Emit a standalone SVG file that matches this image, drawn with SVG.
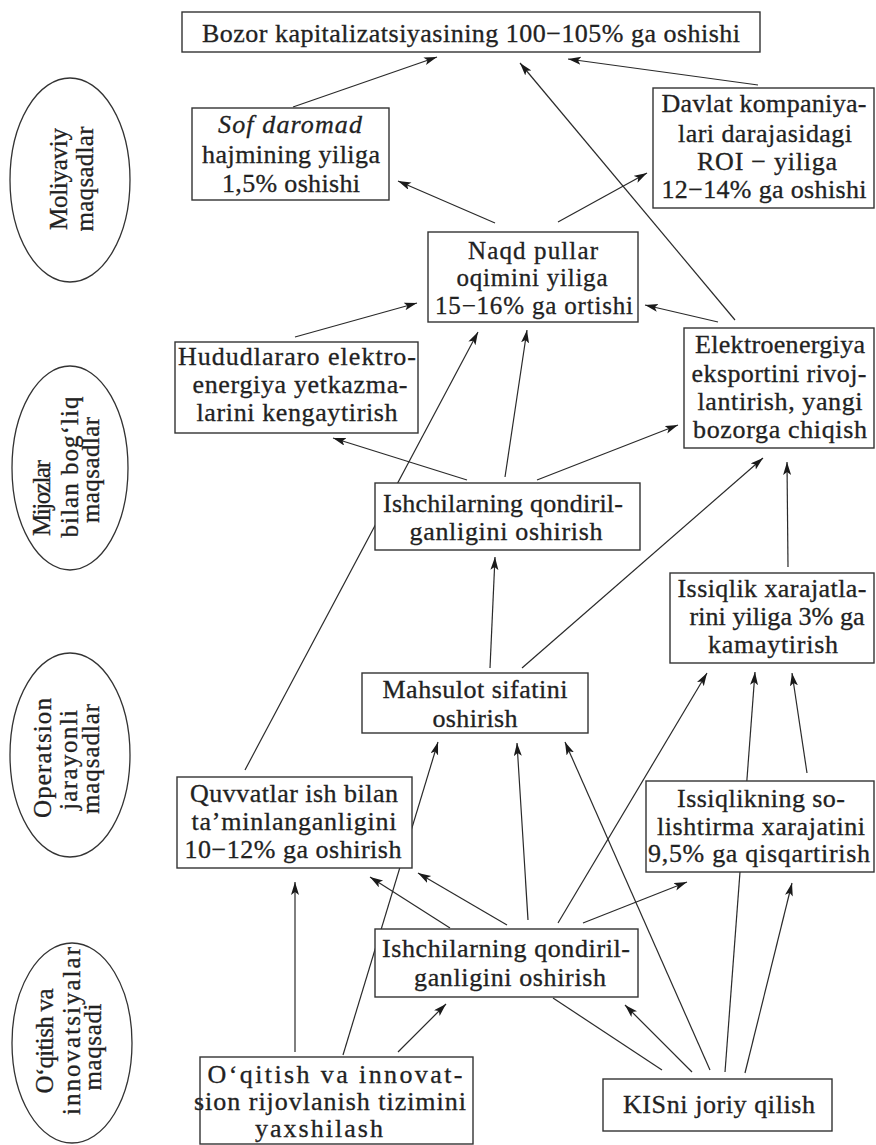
<svg xmlns="http://www.w3.org/2000/svg" width="876" height="1145" viewBox="0 0 876 1145">
<defs>
<marker id="ah" markerUnits="userSpaceOnUse" markerWidth="14" markerHeight="10" refX="13" refY="4" orient="auto">
<path d="M0,0 L13,4 L0,8 L3,4 z" fill="#1a1a1a"/>
</marker>
<style>
.box{fill:#fff;stroke:#333;stroke-width:1.4}
.ell{fill:#fff;stroke:#333;stroke-width:1.3}
.t{font-family:"Liberation Serif","Times New Roman",serif;font-size:26px;fill:#222;text-anchor:middle;stroke:#222;stroke-width:0.3}
.e{font-family:"Liberation Serif","Times New Roman",serif;font-size:25px;fill:#222;text-anchor:middle;stroke:#222;stroke-width:0.3}
.c line{stroke:#2a2a2a;stroke-width:1.2;fill:none}
.c .a{marker-end:url(#ah)}
</style>
</defs>
<rect width="876" height="1145" fill="#fff"/>

<g id="connectors" class="c">
<line class="a" x1="293" y1="107" x2="437" y2="57"/>
<line class="a" x1="758" y1="85" x2="568" y2="59"/>
<line class="a" x1="735" y1="320" x2="520" y2="63"/>
<line class="a" x1="495" y1="223" x2="398" y2="181"/>
<line class="a" x1="558" y1="222" x2="647" y2="173"/>
<line class="a" x1="718" y1="322" x2="645" y2="305"/>
<line class="a" x1="295" y1="337" x2="417" y2="303"/>
<line class="a" x1="467" y1="480" x2="333" y2="438"/>
<line class="a" x1="505" y1="477" x2="527" y2="330"/>
<line class="a" x1="537" y1="480" x2="678" y2="425"/>
<line class="a" x1="245" y1="770" x2="478" y2="332"/>
<line class="a" x1="788" y1="567" x2="787" y2="462"/>
<line class="a" x1="490" y1="668" x2="495" y2="557"/>
<line class="a" x1="522" y1="668" x2="763" y2="458"/>
<line class="a" x1="343" y1="1055" x2="438" y2="742"/>
<line class="a" x1="450" y1="928" x2="370" y2="877"/>
<line class="a" x1="507" y1="925" x2="418" y2="873"/>
<line class="a" x1="528" y1="920" x2="517" y2="743"/>
<line class="a" x1="558" y1="923" x2="707" y2="673"/>
<line class="a" x1="583" y1="923" x2="687" y2="882"/>
<line class="a" x1="710" y1="1070" x2="565" y2="742"/>
<line class="a" x1="725" y1="1072" x2="755" y2="672"/>
<line class="a" x1="807" y1="773" x2="792" y2="673"/>
<line class="a" x1="745" y1="1073" x2="792" y2="883"/>
<line class="a" x1="692" y1="1072" x2="625" y2="1005"/>
<line x1="553" y1="998" x2="662" y2="1070"/>
<line class="a" x1="295" y1="1052" x2="295" y2="882"/>
<line class="a" x1="398" y1="1052" x2="446" y2="1004"/>
</g>

<g id="lane-moliyaviy">
<ellipse class="ell" cx="70" cy="180" rx="60" ry="102"/>
<text class="e" transform="translate(67,179) rotate(-90)" textLength="102" lengthAdjust="spacing">Moliyaviy</text>
<text class="e" transform="translate(93,179) rotate(-90)" textLength="105" lengthAdjust="spacing">maqsadlar</text>
</g>
<g id="lane-mijozlar">
<ellipse class="ell" cx="70" cy="468" rx="58" ry="102"/>
<text class="e" transform="translate(50,498) rotate(-90)" textLength="76" lengthAdjust="spacing">Mijozlar</text>
<text class="e" transform="translate(78,467) rotate(-90)" textLength="141" lengthAdjust="spacing">bilan bog‘liq</text>
<text class="e" transform="translate(99,470) rotate(-90)" textLength="106" lengthAdjust="spacing">maqsadlar</text>
</g>
<g id="lane-operatsion">
<ellipse class="ell" cx="70" cy="755" rx="60" ry="102"/>
<text class="e" transform="translate(51,758) rotate(-90)" textLength="120" lengthAdjust="spacing">Operatsion</text>
<text class="e" transform="translate(77,760) rotate(-90)" textLength="100" lengthAdjust="spacing">jarayonli</text>
<text class="e" transform="translate(99,759) rotate(-90)" textLength="110" lengthAdjust="spacing">maqsadlar</text>
</g>
<g id="lane-oqitish">
<ellipse class="ell" cx="72" cy="1043" rx="60" ry="100"/>
<text class="e" transform="translate(53,1041) rotate(-90)" textLength="105" lengthAdjust="spacing">O‘qitish va</text>
<text class="e" transform="translate(80,1031) rotate(-90)" textLength="168" lengthAdjust="spacing">innovatsiyalar</text>
<text class="e" transform="translate(101,1047) rotate(-90)" textLength="87" lengthAdjust="spacing">maqsadi</text>
</g>

<g id="n-bozor">
<rect class="box" x="182" y="12" width="578" height="40"/>
<text class="t" x="471" y="42" textLength="538" lengthAdjust="spacing">Bozor kapitalizatsiyasining 100−105% ga oshishi</text>
</g>
<g id="n-sof">
<rect class="box" x="192" y="108" width="197" height="92"/>
<text class="t" x="290" y="133" font-style="italic" textLength="144" lengthAdjust="spacing">Sof daromad</text>
<text class="t" x="291" y="163" textLength="178" lengthAdjust="spacing">hajmining yiliga</text>
<text class="t" x="291" y="192" textLength="138" lengthAdjust="spacing">1,5% oshishi</text>
</g>
<g id="n-davlat">
<rect class="box" x="653" y="88" width="221" height="120"/>
<text class="t" x="764" y="112" textLength="205" lengthAdjust="spacing">Davlat kompaniya-</text>
<text class="t" x="765" y="142" textLength="174" lengthAdjust="spacing">lari darajasidagi</text>
<text class="t" x="767" y="170" textLength="140" lengthAdjust="spacing">ROI − yiliga</text>
<text class="t" x="764" y="198" textLength="205" lengthAdjust="spacing">12−14% ga oshishi</text>
</g>
<g id="n-naqd">
<rect class="box" x="428" y="232" width="210" height="90"/>
<text class="t" x="533" y="259" style="font-size:25px" textLength="130" lengthAdjust="spacing">Naqd pullar</text>
<text class="t" x="532" y="286" style="font-size:25px" textLength="151" lengthAdjust="spacing">oqimini yiliga</text>
<text class="t" x="534" y="314" style="font-size:25px" textLength="198" lengthAdjust="spacing">15−16% ga ortishi</text>
</g>
<g id="n-hudud">
<rect class="box" x="175" y="342" width="243" height="91"/>
<text class="t" x="297" y="365" textLength="238" lengthAdjust="spacing">Hududlararo elektro-</text>
<text class="t" x="300" y="393" textLength="215" lengthAdjust="spacing">energiya yetkazma-</text>
<text class="t" x="297" y="421" textLength="201" lengthAdjust="spacing">larini kengaytirish</text>
</g>
<g id="n-elektro">
<rect class="box" x="684" y="328" width="190" height="120"/>
<text class="t" x="780" y="353" textLength="170" lengthAdjust="spacing">Elektroenergiya</text>
<text class="t" x="779" y="382" textLength="175" lengthAdjust="spacing">eksportini rivoj-</text>
<text class="t" x="780" y="410" textLength="165" lengthAdjust="spacing">lantirish, yangi</text>
<text class="t" x="780" y="438" textLength="174" lengthAdjust="spacing">bozorga chiqish</text>
</g>
<g id="n-ishchi1">
<rect class="box" x="375" y="483" width="265" height="67"/>
<text class="t" x="503" y="512" textLength="240" lengthAdjust="spacing">Ishchilarning qondiril-</text>
<text class="t" x="506" y="540" textLength="193" lengthAdjust="spacing">ganligini oshirish</text>
</g>
<g id="n-issiq1">
<rect class="box" x="670" y="573" width="204" height="90"/>
<text class="t" x="772" y="597" textLength="189" lengthAdjust="spacing">Issiqlik xarajatla-</text>
<text class="t" x="777" y="625" textLength="175" lengthAdjust="spacing">rini yiliga 3% ga</text>
<text class="t" x="773" y="653" textLength="130" lengthAdjust="spacing">kamaytirish</text>
</g>
<g id="n-mahsulot">
<rect class="box" x="362" y="673" width="226" height="60"/>
<text class="t" x="475" y="698" textLength="185" lengthAdjust="spacing">Mahsulot sifatini</text>
<text class="t" x="475" y="727" textLength="85" lengthAdjust="spacing">oshirish</text>
</g>
<g id="n-quvvat">
<rect class="box" x="177" y="777" width="235" height="91"/>
<text class="t" x="294" y="802" textLength="208" lengthAdjust="spacing">Quvvatlar ish bilan</text>
<text class="t" x="294" y="830" textLength="205" lengthAdjust="spacing">ta’minlanganligini</text>
<text class="t" x="293" y="858" textLength="217" lengthAdjust="spacing">10−12% ga oshirish</text>
</g>
<g id="n-issiq2">
<rect class="box" x="646" y="781" width="228" height="91"/>
<text class="t" x="761" y="807" textLength="168" lengthAdjust="spacing">Issiqlikning so-</text>
<text class="t" x="761" y="835" textLength="208" lengthAdjust="spacing">lishtirma xarajatini</text>
<text class="t" x="759" y="862" textLength="222" lengthAdjust="spacing">9,5% ga qisqartirish</text>
</g>
<g id="n-ishchi2">
<rect class="box" x="375" y="929" width="263" height="68"/>
<text class="t" x="506" y="957" textLength="248" lengthAdjust="spacing">Ishchilarning qondiril-</text>
<text class="t" x="510" y="986" textLength="192" lengthAdjust="spacing">ganligini oshirish</text>
</g>
<g id="n-oqitish">
<rect class="box" x="200" y="1057" width="273" height="87"/>
<text class="t" x="335" y="1083" textLength="255" lengthAdjust="spacing">O‘qitish va innovat-</text>
<text class="t" x="330" y="1110" textLength="272" lengthAdjust="spacing">sion rijovlanish tizimini</text>
<text class="t" x="319" y="1137" textLength="128" lengthAdjust="spacing">yaxshilash</text>
</g>
<g id="n-kis">
<rect class="box" x="603" y="1079" width="229" height="52"/>
<text class="t" x="719" y="1113" textLength="192" lengthAdjust="spacing">KISni joriy qilish</text>
</g>
</svg>
